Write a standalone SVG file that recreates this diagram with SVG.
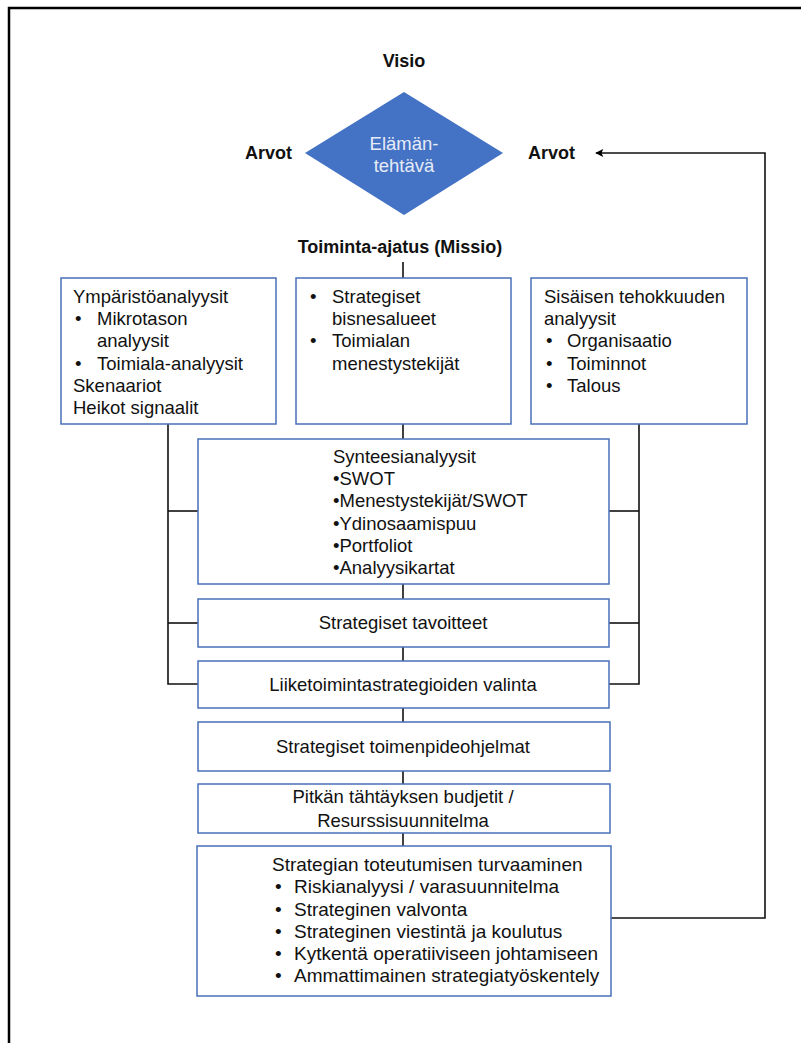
<svg xmlns="http://www.w3.org/2000/svg" width="801" height="1043" viewBox="0 0 801 1043">
  <style>
    .frame { fill: none; stroke: #000; stroke-width: 2.5; }
    .box { fill: #fff; stroke: #4a70b8; stroke-width: 1.5; }
    .wire { fill: none; stroke: #111; stroke-width: 1.6; }
    .t { font-family: "Liberation Sans", Arial, sans-serif; font-size: 18.5px; fill: #111; }
    .c { text-anchor: middle; }
    .b { font-weight: bold; font-size: 18px; }
    .w { fill: #e6ecf7; }
    .big { font-size: 19px; }
  </style>
  <defs>
    <marker id="arrow" viewBox="0 0 10 10" refX="9" refY="5" markerWidth="9" markerHeight="8" markerUnits="userSpaceOnUse" orient="auto">
      <path d="M0,0 L10,5 L0,10 L2,5 Z" fill="#000"/>
    </marker>
  </defs>

  <rect width="801" height="1043" fill="#fff"/>
  <!-- outer frame: only top and left edges fall inside the page -->
  <path class="frame" d="M9,1043 V8 H801"/>

  <!-- connectors -->
  <g id="connectors">
    <line class="wire" x1="403" y1="262" x2="403" y2="278"/>
    <line class="wire" x1="403" y1="424" x2="403" y2="439"/>
    <line class="wire" x1="403" y1="584" x2="403" y2="599"/>
    <line class="wire" x1="403" y1="647" x2="403" y2="661"/>
    <line class="wire" x1="403" y1="708" x2="403" y2="722"/>
    <line class="wire" x1="403" y1="771" x2="403" y2="784"/>
    <line class="wire" x1="403" y1="833" x2="403" y2="846"/>
    <!-- left trunk -->
    <path class="wire" d="M168,424 V684 H198"/>
    <line class="wire" x1="168" y1="511" x2="198" y2="511"/>
    <line class="wire" x1="168" y1="623" x2="198" y2="623"/>
    <!-- right trunk -->
    <path class="wire" d="M639,424 V684 H609"/>
    <line class="wire" x1="639" y1="511" x2="609" y2="511"/>
    <line class="wire" x1="639" y1="623" x2="609" y2="623"/>
    <!-- feedback loop -->
    <path class="wire" d="M611,918 H765 V153 H596" marker-end="url(#arrow)"/>
  </g>

  <g id="visio">
    <text class="t b c" x="404" y="67">Visio</text>
  </g>

  <g id="elamantehtava">
    <polygon points="404,92 503,153 404,215 305,153" fill="#4472c4"/>
    <text class="t c w" x="404" y="150">Elämän-</text>
    <text class="t c w" x="404" y="172">tehtävä</text>
  </g>

  <g id="arvot-left">
    <text class="t b" x="245" y="159">Arvot</text>
  </g>
  <g id="arvot-right">
    <text class="t b" x="528" y="159">Arvot</text>
  </g>

  <g id="missio">
    <text class="t b c" x="400" y="253">Toiminta-ajatus (Missio)</text>
  </g>

  <g id="ymparisto">
    <rect class="box" x="61" y="278" width="215" height="146"/>
    <text class="t" x="73" y="303">Ympäristöanalyysit</text>
    <text class="t" x="75" y="325">•</text>
    <text class="t" x="97" y="325">Mikrotason</text>
    <text class="t" x="97" y="347">analyysit</text>
    <text class="t" x="75" y="370">•</text>
    <text class="t" x="97" y="370">Toimiala-analyysit</text>
    <text class="t" x="73" y="392">Skenaariot</text>
    <text class="t" x="73" y="414">Heikot signaalit</text>
  </g>

  <g id="bisnesalueet">
    <rect class="box" x="296" y="278" width="215" height="146"/>
    <text class="t" x="310" y="303">•</text>
    <text class="t" x="332" y="303">Strategiset</text>
    <text class="t" x="332" y="325">bisnesalueet</text>
    <text class="t" x="310" y="347">•</text>
    <text class="t" x="332" y="347">Toimialan</text>
    <text class="t" x="332" y="370">menestystekijät</text>
  </g>

  <g id="sisainen">
    <rect class="box" x="531" y="278" width="216" height="146"/>
    <text class="t" x="544" y="303">Sisäisen tehokkuuden</text>
    <text class="t" x="544" y="325">analyysit</text>
    <text class="t" x="546" y="347">•</text>
    <text class="t" x="567" y="347">Organisaatio</text>
    <text class="t" x="546" y="370">•</text>
    <text class="t" x="567" y="370">Toiminnot</text>
    <text class="t" x="546" y="392">•</text>
    <text class="t" x="567" y="392">Talous</text>
  </g>

  <g id="synteesi">
    <rect class="box" x="198" y="439" width="411" height="145"/>
    <text class="t" x="333" y="463">Synteesianalyysit</text>
    <text class="t" x="333" y="485">•SWOT</text>
    <text class="t" x="333" y="507">•Menestystekijät/SWOT</text>
    <text class="t" x="333" y="530">•Ydinosaamispuu</text>
    <text class="t" x="333" y="552">•Portfoliot</text>
    <text class="t" x="333" y="574">•Analyysikartat</text>
  </g>

  <g id="tavoitteet">
    <rect class="box" x="198" y="599" width="411" height="48"/>
    <text class="t c" x="403" y="629">Strategiset tavoitteet</text>
  </g>

  <g id="valinta">
    <rect class="box" x="198" y="661" width="411" height="47"/>
    <text class="t c" x="403" y="691">Liiketoimintastrategioiden valinta</text>
  </g>

  <g id="toimenpideohjelmat">
    <rect class="box" x="198" y="722" width="412" height="49"/>
    <text class="t c" x="403" y="753">Strategiset toimenpideohjelmat</text>
  </g>

  <g id="budjetit">
    <rect class="box" x="198" y="784" width="412" height="49"/>
    <text class="t c" x="403" y="803">Pitkän tähtäyksen budjetit /</text>
    <text class="t c" x="403" y="827">Resurssisuunnitelma</text>
  </g>

  <g id="turvaaminen">
    <rect class="box" x="197" y="846" width="414" height="150"/>
    <text class="t big" x="272" y="871">Strategian toteutumisen turvaaminen</text>
    <text class="t big" x="275" y="893">•</text>
    <text class="t big" x="294" y="893">Riskianalyysi / varasuunnitelma</text>
    <text class="t big" x="275" y="916">•</text>
    <text class="t big" x="294" y="916">Strateginen valvonta</text>
    <text class="t big" x="275" y="938">•</text>
    <text class="t big" x="294" y="938">Strateginen viestintä ja koulutus</text>
    <text class="t big" x="275" y="960">•</text>
    <text class="t big" x="294" y="960">Kytkentä operatiiviseen johtamiseen</text>
    <text class="t big" x="275" y="982">•</text>
    <text class="t big" x="294" y="982">Ammattimainen strategiatyöskentely</text>
  </g>
</svg>
